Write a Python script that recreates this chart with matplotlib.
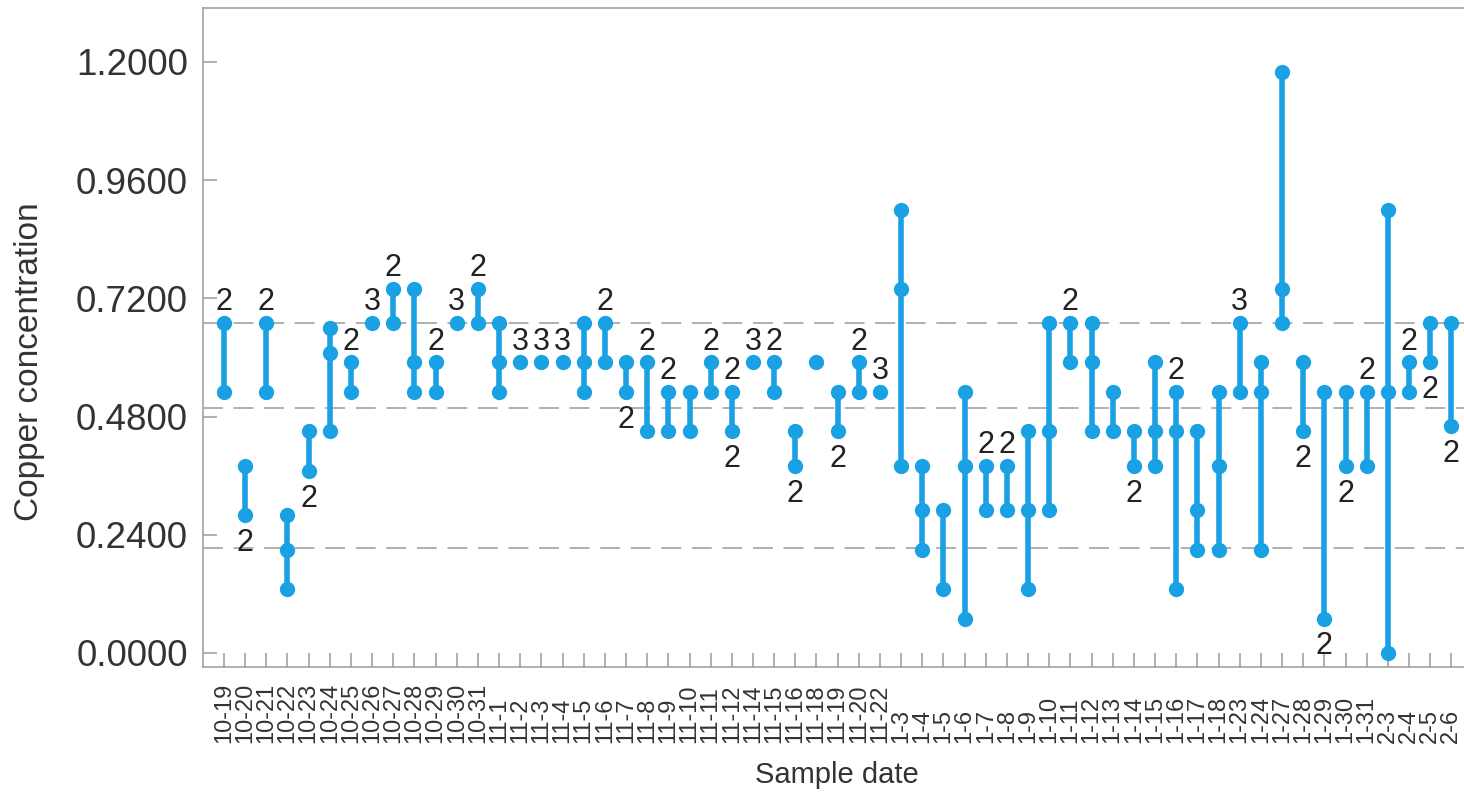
import matplotlib
matplotlib.use('Agg')
import matplotlib.pyplot as plt

plt.rcParams['font.family'] = ['Liberation Sans', 'DejaVu Sans']

# sample dates and the distinct copper readings seen on each day
dates = ['10-19', '10-20', '10-21', '10-22', '10-23', '10-24', '10-25', '10-26', '10-27', '10-28',
         '10-29', '10-30', '10-31', '11-1', '11-2', '11-3', '11-4', '11-5', '11-6', '11-7',
         '11-8', '11-9', '11-10', '11-11', '11-12', '11-14', '11-15', '11-16', '11-18', '11-19',
         '11-20', '11-22', '1-3', '1-4', '1-5', '1-6', '1-7', '1-8', '1-9', '1-10',
         '1-11', '1-12', '1-13', '1-14', '1-15', '1-16', '1-17', '1-18', '1-23', '1-24',
         '1-27', '1-28', '1-29', '1-30', '1-31', '2-3', '2-4', '2-5', '2-6']

readings = [[0.53, 0.67], [0.28, 0.38], [0.53, 0.67], [0.13, 0.21, 0.28], [0.37, 0.45],
            [0.45, 0.61, 0.66], [0.53, 0.59], [0.67], [0.67, 0.74], [0.53, 0.59, 0.74],
            [0.53, 0.59], [0.67], [0.67, 0.74], [0.53, 0.59, 0.67], [0.59],
            [0.59], [0.59], [0.53, 0.59, 0.67], [0.59, 0.67], [0.53, 0.59],
            [0.45, 0.59], [0.45, 0.53], [0.45, 0.53], [0.53, 0.59], [0.45, 0.53],
            [0.59], [0.53, 0.59], [0.38, 0.45], [0.59], [0.45, 0.53],
            [0.53, 0.59], [0.53], [0.38, 0.74, 0.90], [0.21, 0.29, 0.38], [0.13, 0.29],
            [0.07, 0.38, 0.53], [0.29, 0.38], [0.29, 0.38], [0.13, 0.29, 0.45], [0.29, 0.45, 0.67],
            [0.59, 0.67], [0.45, 0.59, 0.67], [0.45, 0.53], [0.38, 0.45], [0.38, 0.45, 0.59],
            [0.13, 0.45, 0.53], [0.21, 0.29, 0.45], [0.21, 0.38, 0.53], [0.53, 0.67], [0.21, 0.53, 0.59],
            [0.67, 0.74, 1.18], [0.45, 0.59], [0.07, 0.53], [0.38, 0.53], [0.38, 0.53],
            [0.00, 0.53, 0.90], [0.53, 0.59], [0.59, 0.67], [0.46, 0.67]]

# repeat counts: date, value, count, written above (1) or below (-1)
count_date = ['10-19', '10-20', '10-21', '10-23', '10-25', '10-26', '10-27', '10-29', '10-30', '10-31',
              '11-2', '11-3', '11-4', '11-6', '11-7', '11-8', '11-9', '11-11', '11-12', '11-12',
              '11-14', '11-15', '11-16', '11-19', '11-20', '11-22', '1-7', '1-8', '1-11', '1-14',
              '1-16', '1-23', '1-28', '1-29', '1-30', '1-31', '2-4', '2-5', '2-6']
count_val = [0.67, 0.28, 0.67, 0.37, 0.59, 0.67, 0.74, 0.59, 0.67, 0.74,
             0.59, 0.59, 0.59, 0.67, 0.53, 0.59, 0.53, 0.59, 0.53, 0.45,
             0.59, 0.59, 0.38, 0.45, 0.59, 0.53, 0.38, 0.38, 0.67, 0.38,
             0.53, 0.67, 0.45, 0.07, 0.38, 0.53, 0.59, 0.59, 0.46]
count_txt = ['2', '2', '2', '2', '2', '3', '2', '2', '3', '2',
             '3', '3', '3', '2', '2', '2', '2', '2', '2', '2',
             '3', '2', '2', '2', '2', '3', '2', '2', '2', '2',
             '2', '3', '2', '2', '2', '2', '2', '2', '2']
count_side = [1, -1, 1, -1, 1, 1, 1, 1, 1, 1,
              1, 1, 1, 1, -1, 1, 1, 1, 1, -1,
              1, 1, -1, -1, 1, 1, 1, 1, 1, -1,
              1, 1, -1, -1, -1, 1, 1, -1, -1]

# reference lines
ref_lines = [0.67, 0.497, 0.213]
yticks = [0.0, 0.24, 0.48, 0.72, 0.96, 1.2]

blue = '#19a1e4'
grey = '#9a9a9a'

fig = plt.figure(figsize=(14.64, 7.96), dpi=100)
ax = fig.add_axes([0.1387, 0.1621, 0.8613, 0.8279])

for y in ref_lines:
  ax.axhline(y, color=grey, lw=1.1, ls=(0, (13, 7)), zorder=1)

for i, vals in enumerate(readings):
  ax.plot([i] * len(vals), vals, '-o', color=blue, lw=4.0, ms=11, mew=0, zorder=3)

for d, v, t, s in zip(count_date, count_val, count_txt, count_side):
  off = 15 if s > 0 else -20
  ax.annotate(t, (dates.index(d), v), xytext=(0, off), textcoords='offset points',
              ha='center', va='center', fontsize=22, color='#222222')

ax.set_xlim(-0.99, 58.6)
ax.set_ylim(-0.0284, 1.3096)

ax.set_yticks(yticks)
ax.set_yticklabels(['%.4f' % v for v in yticks])
ax.set_xticks(range(len(dates)), dates, rotation=90, va='bottom', fontsize=17)

ax.tick_params(axis='y', direction='in', length=10, width=1.1, color=grey, pad=11,
               labelsize=26.5, labelcolor='#333333')
ax.tick_params(axis='x', direction='in', length=10, width=1.1, color=grey, pad=54.7,
               labelcolor='#333333')

for side in ['left', 'bottom', 'top']:
  ax.spines[side].set_color(grey)
  ax.spines[side].set_linewidth(1.1)
ax.spines['right'].set_visible(False)

ax.set_ylabel('Copper concentration', fontsize=24, color='#333333')
ax.yaxis.set_label_coords(-0.1253, 0.4628)
ax.set_xlabel('Sample date', fontsize=21, color='#333333')
ax.xaxis.set_label_coords(0.503, -0.1426)

fig.savefig('out.png', dpi=100)
